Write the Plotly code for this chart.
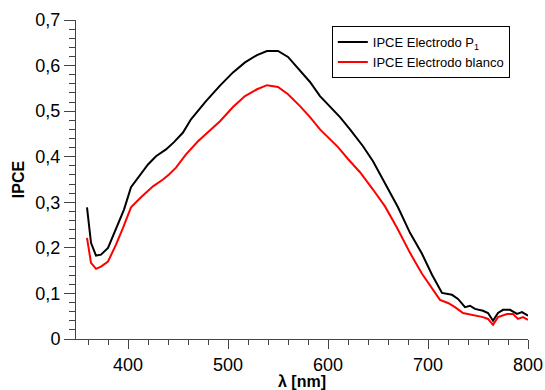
import plotly.graph_objects as go

# Black series: IPCE Electrodo P1
wl_p1 = [359, 363, 368, 373, 380, 388, 396, 403, 411, 420, 428, 438, 446, 455, 463,
         478, 492, 505, 517, 529, 539, 550, 560, 572, 582, 592, 602, 612, 622, 635,
         645, 659, 670, 682, 694, 704, 714, 724, 730, 737, 742, 747, 755, 760, 765,
         770, 775, 782, 789, 794, 800]
ipce_p1 = [0.289, 0.211, 0.183, 0.185, 0.200, 0.240, 0.284, 0.333, 0.357, 0.383, 0.401,
           0.416, 0.432, 0.453, 0.482, 0.522, 0.556, 0.585, 0.607, 0.623, 0.632, 0.632,
           0.619, 0.588, 0.564, 0.533, 0.509, 0.487, 0.460, 0.423, 0.390, 0.335, 0.289,
           0.233, 0.187, 0.141, 0.101, 0.097, 0.088, 0.070, 0.073, 0.066, 0.062, 0.057,
           0.040, 0.057, 0.064, 0.064, 0.055, 0.059, 0.051]

# Red series: IPCE Electrodo blanco
wl_bl = [359, 363, 368, 373, 380, 388, 395, 403, 413, 425, 435, 441, 448, 458, 470,
         481, 492, 505, 517, 529, 539, 550, 560, 572, 582, 592, 602, 610, 620, 632,
         645, 657, 669, 682, 694, 704, 712, 720, 727, 735, 745, 755, 760, 765, 770,
         779, 785, 790, 795, 800]
ipce_bl = [0.222, 0.167, 0.154, 0.159, 0.170, 0.207, 0.244, 0.289, 0.311, 0.335, 0.350,
           0.361, 0.376, 0.405, 0.434, 0.456, 0.478, 0.509, 0.533, 0.548, 0.557, 0.553,
           0.537, 0.511, 0.487, 0.460, 0.438, 0.421, 0.395, 0.366, 0.328, 0.291, 0.244,
           0.189, 0.143, 0.112, 0.086, 0.079, 0.070, 0.057, 0.053, 0.048, 0.044, 0.031,
           0.048, 0.055, 0.055, 0.044, 0.048, 0.042]

name_p1 = "IPCE Electrodo P<sub>1</sub>"
name_bl = "IPCE Electrodo blanco"

FONT = "Liberation Sans, Arial, Helvetica, sans-serif"
AX = "#444444"

fig = go.Figure()
fig.add_trace(go.Scatter(x=wl_p1, y=ipce_p1, mode="lines", name=name_p1,
                         line=dict(color="black", width=2)))
fig.add_trace(go.Scatter(x=wl_bl, y=ipce_bl, mode="lines", name=name_bl,
                         line=dict(color="red", width=2)))

fig.update_layout(
    width=545, height=390,
    margin=dict(l=76, r=17, t=20, b=51, autoexpand=False),
    paper_bgcolor="white", plot_bgcolor="white",
    separators=",.",
    font=dict(family=FONT, color="black"),
    showlegend=True,
    legend=dict(x=0.566, y=0.981, xanchor="left", yanchor="top",
                bordercolor="black", borderwidth=1, bgcolor="white",
                font=dict(size=13, family=FONT), tracegroupgap=0,
                itemwidth=30),
)
fig.update_xaxes(
    range=[348, 800], showgrid=False, zeroline=False, automargin=False,
    showline=True, linecolor=AX, linewidth=1,
    ticks="outside", ticklen=9, tickcolor=AX, tickwidth=1,
    dtick=100, tick0=0,
    minor=dict(dtick=20, tick0=0, ticks="outside", ticklen=5, tickcolor=AX, showgrid=False),
    tickfont=dict(size=18),
    title=dict(text="<b>λ [nm]</b>", font=dict(size=16), standoff=2),
)
fig.update_yaxes(
    range=[0, 0.7], showgrid=False, zeroline=False, automargin=False,
    showline=True, linecolor=AX, linewidth=1,
    ticks="outside", ticklen=11, tickcolor=AX, tickwidth=1,
    dtick=0.1, tick0=0,
    minor=dict(dtick=0.02, tick0=0, ticks="outside", ticklen=6, tickcolor=AX, showgrid=False),
    tickfont=dict(size=18),
    title=dict(text="<b>IPCE</b>", font=dict(size=16), standoff=6),
)

fig.write_html("out.html")
